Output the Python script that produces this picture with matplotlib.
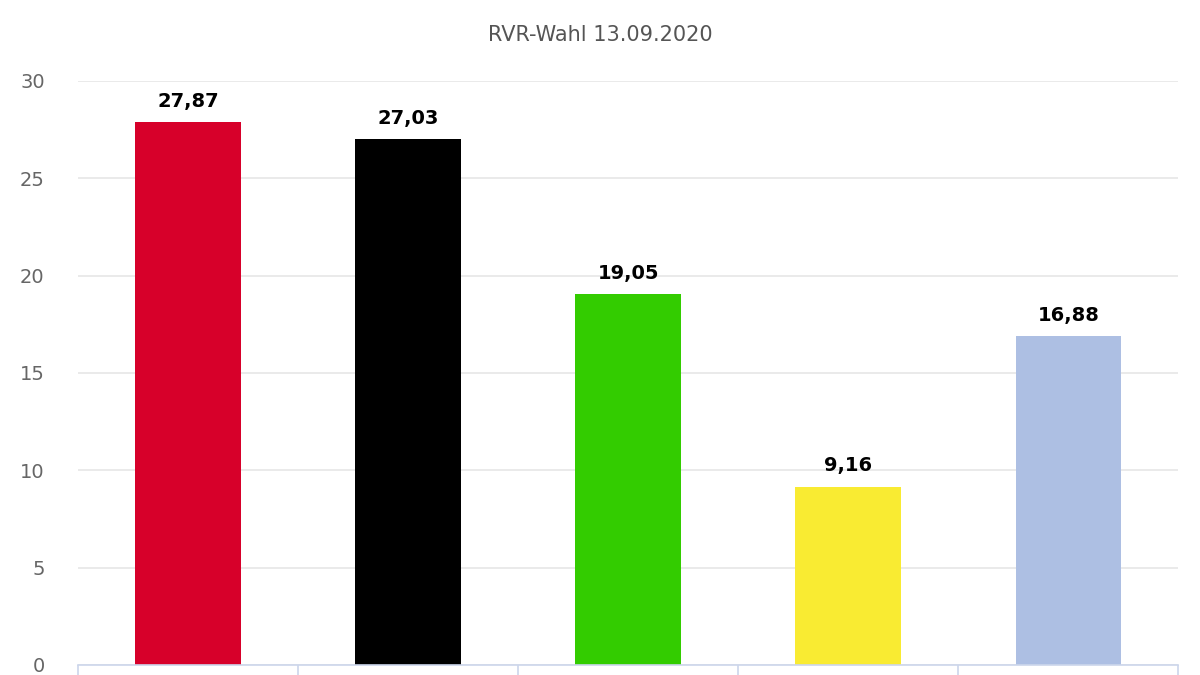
#!/usr/bin/env python3
import matplotlib
matplotlib.use("Agg")
import matplotlib.pyplot as plt

title = "RVR-Wahl 13.09.2020"
parties = ["SPD", "CDU", "GRÜNE", "FDP/Sonstige", "Andere"]
values = [27.87, 27.03, 19.05, 9.16, 16.88]
colors = ["#d7002a", "#000000", "#33cc00", "#f9eb32", "#adbfe3"]
y_ticks = [0, 5, 10, 15, 20, 25, 30]

fig = plt.figure(figsize=(12, 6.75), dpi=100)
ax = fig.add_axes([0.065, 0.015, 0.917, 0.865])

x = list(range(len(values)))
bars = ax.bar(x, values, width=0.48, color=colors, zorder=2)

for xi, v in zip(x, values):
    label = f"{v:.2f}".replace(".", ",")
    ax.annotate(label, (xi, v), xytext=(0, 8), textcoords="offset points",
                ha="center", va="bottom", fontsize=14, fontweight="bold",
                color="#000000")

ax.set_xlim(-0.5, len(values) - 0.5)
ax.set_ylim(0, 30)
ax.set_yticks(y_ticks)
ax.set_yticklabels([str(t) for t in y_ticks])
ax.tick_params(axis="y", length=0, labelsize=14, labelcolor="#666666", pad=24)
ax.yaxis.grid(True, color="#e6e6e6", linewidth=1.2, zorder=0)

# category boundaries as tick marks
ax.set_xticks([i - 0.5 for i in range(len(values) + 1)])
ax.set_xticklabels([])
ax.tick_params(axis="x", length=8, color="#ccd6eb", width=1.2, direction="out")

for side in ["top", "right", "left"]:
    ax.spines[side].set_visible(False)
ax.spines["bottom"].set_color("#ccd6eb")
ax.spines["bottom"].set_linewidth(1.2)

fig.text(0.5, 0.948, title, ha="center", va="center", fontsize=15, color="#555555")

fig.savefig("out.png", dpi=100)
